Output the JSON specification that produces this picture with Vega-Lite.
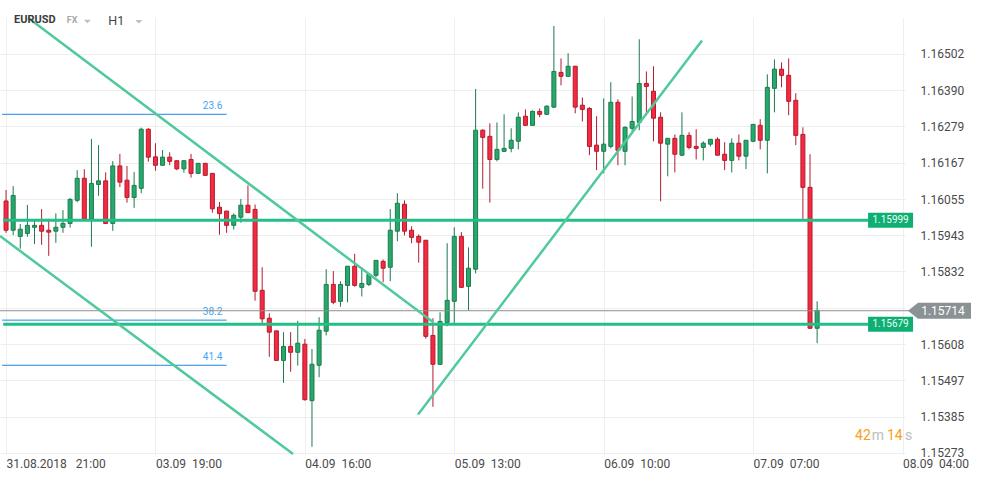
{
"$schema":"https://vega.github.io/schema/vega-lite/v6.json",
"width":905,"height":436,
"autosize":{"type":"none"},
"padding":{"left":0,"top":18,"right":76,"bottom":26},
"background":"#ffffff",
"config":{"view":{"stroke":null},"font":"Roboto",
 "axis":{"labelFont":"Roboto","labelFontSize":12,"labelColor":"#4a4a4a","labelOverlap":false,"labelFlush":false,"labelBound":false,"grid":true,"gridColor":"#eeeeee","gridWidth":1,"domain":false,"ticks":false,"tickSize":0},
 "axisX":{"labelAlign":"left","labelPadding":4,"tickCount":20},
 "axisY":{"labelAlign":"left","labelPadding":15,"tickCount":20}},
"resolve":{"scale":{"x":"shared","y":"shared"}},
"datasets":{
"candles":[
{"i":0,"o":1.16049,"h":1.16083,"l":1.15951,"c":1.15959},
{"i":1,"o":1.15959,"h":1.16095,"l":1.15944,"c":1.16066},
{"i":2,"o":1.1594,"h":1.15978,"l":1.15902,"c":1.15962},
{"i":3,"o":1.15949,"h":1.16037,"l":1.15939,"c":1.15974},
{"i":4,"o":1.15968,"h":1.15988,"l":1.15916,"c":1.15974},
{"i":5,"o":1.15974,"h":1.16024,"l":1.15914,"c":1.15956},
{"i":6,"o":1.15959,"h":1.15994,"l":1.1588,"c":1.15953},
{"i":7,"o":1.15956,"h":1.16011,"l":1.1592,"c":1.15968},
{"i":8,"o":1.15968,"h":1.16021,"l":1.15951,"c":1.1598},
{"i":9,"o":1.1598,"h":1.16058,"l":1.15967,"c":1.16054},
{"i":10,"o":1.16051,"h":1.16144,"l":1.16045,"c":1.16119},
{"i":11,"o":1.16119,"h":1.16147,"l":1.1599,"c":1.15993},
{"i":12,"o":1.15993,"h":1.1624,"l":1.15908,"c":1.16103},
{"i":13,"o":1.161,"h":1.16221,"l":1.16065,"c":1.16111},
{"i":14,"o":1.16111,"h":1.16137,"l":1.15978,"c":1.1598},
{"i":15,"o":1.1598,"h":1.16172,"l":1.15957,"c":1.16157},
{"i":16,"o":1.16157,"h":1.16194,"l":1.16092,"c":1.16107},
{"i":17,"o":1.16113,"h":1.16157,"l":1.16044,"c":1.1606},
{"i":18,"o":1.1606,"h":1.16138,"l":1.16028,"c":1.16097},
{"i":19,"o":1.16088,"h":1.16275,"l":1.16073,"c":1.1627},
{"i":20,"o":1.1627,"h":1.16273,"l":1.1617,"c":1.16184},
{"i":21,"o":1.16185,"h":1.16227,"l":1.16142,"c":1.16159},
{"i":22,"o":1.16159,"h":1.16206,"l":1.16157,"c":1.16184},
{"i":23,"o":1.16184,"h":1.16199,"l":1.16159,"c":1.16171},
{"i":24,"o":1.16173,"h":1.16174,"l":1.16144,"c":1.16148},
{"i":25,"o":1.16148,"h":1.16174,"l":1.16136,"c":1.16173},
{"i":26,"o":1.16177,"h":1.16194,"l":1.16121,"c":1.16134},
{"i":27,"o":1.16134,"h":1.16166,"l":1.16133,"c":1.16165},
{"i":28,"o":1.16165,"h":1.16166,"l":1.16126,"c":1.16128},
{"i":29,"o":1.16134,"h":1.16135,"l":1.16013,"c":1.16025},
{"i":30,"o":1.1603,"h":1.16046,"l":1.15945,"c":1.1601},
{"i":31,"o":1.16018,"h":1.16018,"l":1.15951,"c":1.15974},
{"i":32,"o":1.15974,"h":1.16011,"l":1.15961,"c":1.16005},
{"i":33,"o":1.15999,"h":1.16055,"l":1.15982,"c":1.16036},
{"i":34,"o":1.16036,"h":1.16097,"l":1.16012,"c":1.16013},
{"i":35,"o":1.16023,"h":1.16038,"l":1.15742,"c":1.15771},
{"i":36,"o":1.15774,"h":1.15845,"l":1.15672,"c":1.15686},
{"i":37,"o":1.15688,"h":1.15703,"l":1.15569,"c":1.15645},
{"i":38,"o":1.15649,"h":1.15649,"l":1.15556,"c":1.15558},
{"i":39,"o":1.15558,"h":1.15645,"l":1.15489,"c":1.15601},
{"i":40,"o":1.15601,"h":1.15645,"l":1.15523,"c":1.15583},
{"i":41,"o":1.15583,"h":1.1568,"l":1.15542,"c":1.15611},
{"i":42,"o":1.15608,"h":1.15624,"l":1.15434,"c":1.15437},
{"i":43,"o":1.15434,"h":1.15593,"l":1.15292,"c":1.15546},
{"i":44,"o":1.15543,"h":1.15691,"l":1.15506,"c":1.15651},
{"i":45,"o":1.15648,"h":1.15839,"l":1.15635,"c":1.15792},
{"i":46,"o":1.15792,"h":1.15833,"l":1.15731,"c":1.15737},
{"i":47,"o":1.1574,"h":1.15802,"l":1.15723,"c":1.15792},
{"i":48,"o":1.15789,"h":1.15849,"l":1.15737,"c":1.15848},
{"i":49,"o":1.15848,"h":1.15886,"l":1.15785,"c":1.15789},
{"i":50,"o":1.15783,"h":1.15845,"l":1.15755,"c":1.15795},
{"i":51,"o":1.15792,"h":1.15827,"l":1.15787,"c":1.15823},
{"i":52,"o":1.1582,"h":1.15867,"l":1.15814,"c":1.15866},
{"i":53,"o":1.15863,"h":1.15869,"l":1.15799,"c":1.15842},
{"i":54,"o":1.15845,"h":1.16024,"l":1.15802,"c":1.15959},
{"i":55,"o":1.15956,"h":1.16073,"l":1.15925,"c":1.16042},
{"i":56,"o":1.16039,"h":1.16051,"l":1.15943,"c":1.15956},
{"i":57,"o":1.15959,"h":1.15971,"l":1.15919,"c":1.15937},
{"i":58,"o":1.1594,"h":1.15946,"l":1.15859,"c":1.15922},
{"i":59,"o":1.15928,"h":1.15929,"l":1.15625,"c":1.15632},
{"i":60,"o":1.15635,"h":1.15688,"l":1.15415,"c":1.15546},
{"i":61,"o":1.15546,"h":1.15706,"l":1.15544,"c":1.15678},
{"i":62,"o":1.15675,"h":1.15919,"l":1.15663,"c":1.15743},
{"i":63,"o":1.1574,"h":1.15968,"l":1.15669,"c":1.1594},
{"i":64,"o":1.1594,"h":1.15953,"l":1.15781,"c":1.15783},
{"i":65,"o":1.15786,"h":1.15906,"l":1.15712,"c":1.15842},
{"i":66,"o":1.15839,"h":1.16394,"l":1.15826,"c":1.16267},
{"i":67,"o":1.16267,"h":1.1627,"l":1.16087,"c":1.16245},
{"i":68,"o":1.16248,"h":1.16288,"l":1.16044,"c":1.16177},
{"i":69,"o":1.16177,"h":1.16291,"l":1.16171,"c":1.16208},
{"i":70,"o":1.16202,"h":1.16316,"l":1.162,"c":1.16211},
{"i":71,"o":1.16211,"h":1.16273,"l":1.16199,"c":1.16236},
{"i":72,"o":1.16233,"h":1.16322,"l":1.16208,"c":1.16307},
{"i":73,"o":1.1631,"h":1.16331,"l":1.1628,"c":1.16282},
{"i":74,"o":1.16282,"h":1.16328,"l":1.1628,"c":1.16325},
{"i":75,"o":1.16325,"h":1.16334,"l":1.16307,"c":1.16316},
{"i":76,"o":1.16316,"h":1.16344,"l":1.16314,"c":1.16341},
{"i":77,"o":1.16338,"h":1.16588,"l":1.16336,"c":1.16448},
{"i":78,"o":1.16445,"h":1.16488,"l":1.16405,"c":1.16433},
{"i":79,"o":1.16433,"h":1.16504,"l":1.16431,"c":1.16464},
{"i":80,"o":1.16464,"h":1.16465,"l":1.16319,"c":1.16338},
{"i":81,"o":1.16344,"h":1.16368,"l":1.16294,"c":1.16331},
{"i":82,"o":1.16334,"h":1.16338,"l":1.1619,"c":1.16217},
{"i":83,"o":1.16221,"h":1.1631,"l":1.16144,"c":1.16202},
{"i":84,"o":1.16202,"h":1.16365,"l":1.16134,"c":1.16224},
{"i":85,"o":1.16217,"h":1.16415,"l":1.16211,"c":1.16353},
{"i":86,"o":1.16353,"h":1.16362,"l":1.16159,"c":1.16205},
{"i":87,"o":1.16202,"h":1.16279,"l":1.16159,"c":1.16276},
{"i":88,"o":1.16273,"h":1.16371,"l":1.16264,"c":1.16294},
{"i":89,"o":1.16291,"h":1.16547,"l":1.16267,"c":1.16411},
{"i":90,"o":1.16411,"h":1.16448,"l":1.16316,"c":1.16402},
{"i":91,"o":1.16387,"h":1.16464,"l":1.16233,"c":1.16304},
{"i":92,"o":1.16307,"h":1.16322,"l":1.16048,"c":1.16227},
{"i":93,"o":1.16224,"h":1.16242,"l":1.16125,"c":1.16242},
{"i":94,"o":1.16242,"h":1.16254,"l":1.16137,"c":1.16193},
{"i":95,"o":1.1619,"h":1.16322,"l":1.16187,"c":1.16251},
{"i":96,"o":1.16251,"h":1.16261,"l":1.16208,"c":1.16214},
{"i":97,"o":1.16217,"h":1.1627,"l":1.16177,"c":1.16211},
{"i":98,"o":1.16214,"h":1.16233,"l":1.16174,"c":1.16227},
{"i":99,"o":1.16224,"h":1.1624,"l":1.16217,"c":1.16239},
{"i":100,"o":1.16239,"h":1.16245,"l":1.1619,"c":1.1619},
{"i":101,"o":1.16193,"h":1.1623,"l":1.16144,"c":1.16174},
{"i":102,"o":1.16174,"h":1.16242,"l":1.16137,"c":1.16227},
{"i":103,"o":1.16227,"h":1.16254,"l":1.16174,"c":1.16187},
{"i":104,"o":1.16187,"h":1.16236,"l":1.16147,"c":1.16236},
{"i":105,"o":1.16233,"h":1.16285,"l":1.1623,"c":1.16285},
{"i":106,"o":1.16282,"h":1.16301,"l":1.16208,"c":1.16236},
{"i":107,"o":1.16236,"h":1.16439,"l":1.16134,"c":1.16399},
{"i":108,"o":1.16396,"h":1.16485,"l":1.16322,"c":1.16455},
{"i":109,"o":1.16455,"h":1.16476,"l":1.16399,"c":1.16436},
{"i":110,"o":1.16436,"h":1.16488,"l":1.16313,"c":1.16356},
{"i":111,"o":1.16359,"h":1.16381,"l":1.16221,"c":1.16251},
{"i":112,"o":1.16254,"h":1.16276,"l":1.15994,"c":1.16091},
{"i":113,"o":1.16091,"h":1.16193,"l":1.15655,"c":1.15657},
{"i":114,"o":1.15657,"h":1.1574,"l":1.15611,"c":1.15712}
],
"fib":[{"t":"23.6","p":1.16316},{"t":"38.2","p":1.15682},{"t":"41.4","p":1.15543}],
"levels":[{"t":"1.15999","p":1.1599},{"t":"1.15679","p":1.15669}],
"trend":[{"x0":3.09,"p0":1.16613,"x1":60.0,"p1":1.15676},{"x0":-0.85,"p0":1.15941,"x1":40.34,"p1":1.1527},{"x0":57.91,"p0":1.15391,"x1":97.82,"p1":1.16543}],
"last":[{"t":"1.15714","p":1.15711}]
},
"layer":[
{"data":{"name":"candles"},"mark":{"type":"rule","strokeWidth":1},
 "encoding":{
  "x":{"field":"i","type":"quantitative","title":null,"scale":{"domain":[-0.85,126.35],"nice":false,"zero":false,"padding":0},
   "axis":{"orient":"bottom","tickCount":20,"values":[0,21,42,63,84,105,126],
    "labelExpr":"datum.value == 0 ? '31.08.2018\u00a0\u00a0\u00a021:00' : datum.value == 21 ? '03.09\u00a0\u00a019:00' : datum.value == 42 ? '04.09\u00a0\u00a016:00' : datum.value == 63 ? '05.09\u00a0\u00a013:00' : datum.value == 84 ? '06.09\u00a0\u00a010:00' : datum.value == 105 ? '07.09\u00a0\u00a007:00' : '08.09\u00a0\u00a004:00'"}},
  "y":{"field":"l","type":"quantitative","title":null,"scale":{"domain":[1.152697,1.166126],"nice":false,"zero":false,"padding":0},
   "axis":{"orient":"right","tickCount":20,"values":[1.15273,1.15385,1.15497,1.15608,1.1572,1.15832,1.15943,1.16055,1.16167,1.16279,1.1639,1.16502],
    "labelExpr":"abs(datum.value - 1.1572) < 0.00001 ? '' : format(datum.value, '.5f')"}},
  "y2":{"field":"h"},
  "color":{"condition":{"test":"datum.c >= datum.o","value":"#1c7a4d"},"value":"#b31b2e"}}},
{"data":{"name":"candles"},"mark":{"type":"bar","size":4,"strokeWidth":1},
 "encoding":{
  "x":{"field":"i","type":"quantitative","title":null},
  "y":{"field":"o","type":"quantitative","title":null},
  "y2":{"field":"c"},
  "fill":{"condition":{"test":"datum.c >= datum.o","value":"#27a96d"},"value":"#f52a40"},
  "stroke":{"condition":{"test":"datum.c >= datum.o","value":"#1c7a4d"},"value":"#b31b2e"}}},
{"data":{"name":"fib"},"mark":{"type":"rule","color":"#1e88e5","strokeWidth":1},
 "encoding":{"x":{"datum":-0.56,"type":"quantitative","title":null},"x2":{"datum":31.0},"y":{"field":"p","type":"quantitative","title":null}}},
{"data":{"name":"fib"},"mark":{"type":"text","align":"right","baseline":"middle","dy":-8.5,"fontSize":10,"color":"#42a5f5"},
 "encoding":{"x":{"datum":30.4,"type":"quantitative","title":null},"y":{"field":"p","type":"quantitative","title":null},"text":{"field":"t"}}},
{"data":{"name":"last"},"mark":{"type":"rule","color":"#8e8e8e","strokeWidth":1},
 "encoding":{"x":{"datum":-0.85,"type":"quantitative","title":null},"x2":{"datum":127.0},"y":{"field":"p","type":"quantitative","title":null}}},
{"data":{"name":"levels"},"mark":{"type":"rule","color":"#22bf88","strokeWidth":3},
 "encoding":{"x":{"datum":-0.4,"type":"quantitative","title":null},"x2":{"datum":121.2},"y":{"field":"p","type":"quantitative","title":null}}},
{"data":{"name":"trend"},"mark":{"type":"rule","color":"#50c99b","strokeWidth":2.5},
 "encoding":{"x":{"field":"x0","type":"quantitative","title":null},"x2":{"field":"x1"},"y":{"field":"p0","type":"quantitative","title":null},"y2":{"field":"p1"}}},
{"data":{"name":"levels"},"mark":{"type":"point","filled":true,"opacity":1,"strokeWidth":0,"size":2025,"shape":"M -1 -0.333 L 1 -0.333 L 1 0.333 L -1 0.333 Z","color":"#0fae72"},
 "encoding":{"x":{"datum":124.32,"type":"quantitative","title":null},"y":{"field":"p","type":"quantitative","title":null}}},
{"data":{"name":"levels"},"mark":{"type":"text","align":"center","baseline":"middle","fontSize":10,"color":"#eafff5"},
 "encoding":{"x":{"datum":124.32,"type":"quantitative","title":null},"y":{"field":"p","type":"quantitative","title":null},"text":{"field":"t"}}},
{"data":{"name":"last"},"mark":{"type":"point","filled":true,"opacity":1,"strokeWidth":0,"size":3969,"shape":"M -1 0 L -0.683 -0.254 L 1 -0.254 L 1 0.254 L -0.683 0.254 Z","color":"#8a9295"},
 "encoding":{"x":{"datum":131.2,"type":"quantitative","title":null},"y":{"field":"p","type":"quantitative","title":null}}},
{"data":{"name":"last"},"mark":{"type":"text","align":"center","baseline":"middle","fontSize":12,"color":"#ffffff"},
 "encoding":{"x":{"datum":131.69,"type":"quantitative","title":null},"y":{"field":"p","type":"quantitative","title":null},"text":{"field":"t"}}},
{"data":{"values":[{"t":"EURUSD"}]},"mark":{"type":"text","align":"left","baseline":"middle","fontSize":11,"fontWeight":"bold","color":"#3c3c3c"},
 "encoding":{"x":{"datum":1.12,"type":"quantitative","title":null},"y":{"datum":1.16605,"type":"quantitative","title":null},"text":{"field":"t"}}},
{"data":{"values":[{"t":"FX"}]},"mark":{"type":"text","align":"left","baseline":"middle","fontSize":9,"fontWeight":"bold","color":"#a8a8a8"},
 "encoding":{"x":{"datum":8.53,"type":"quantitative","title":null},"y":{"datum":1.16606,"type":"quantitative","title":null},"text":{"field":"t"}}},
{"data":{"values":[{"t":"H1"}]},"mark":{"type":"text","align":"left","baseline":"middle","fontSize":12.5,"color":"#444444"},
 "encoding":{"x":{"datum":14.38,"type":"quantitative","title":null},"y":{"datum":1.16603,"type":"quantitative","title":null},"text":{"field":"t"}}},
{"data":{"values":[{"k":"FX"}]},"mark":{"type":"point","filled":true,"opacity":1,"strokeWidth":0,"size":49,"shape":"M -1 -0.5 L 1 -0.5 L 0 0.5 Z","color":"#bdbdbd"},
 "encoding":{"x":{"datum":11.43,"type":"quantitative","title":null},"y":{"datum":1.16602,"type":"quantitative","title":null}}},
{"data":{"values":[{"k":"H1"}]},"mark":{"type":"point","filled":true,"opacity":1,"strokeWidth":0,"size":49,"shape":"M -1 -0.5 L 1 -0.5 L 0 0.5 Z","color":"#bdbdbd"},
 "encoding":{"x":{"datum":18.66,"type":"quantitative","title":null},"y":{"datum":1.16601,"type":"quantitative","title":null}}},
{"data":{"values":[{"t":"42"}]},"mark":{"type":"text","align":"left","baseline":"middle","fontSize":14,"color":"#f9a01b"},
 "encoding":{"x":{"datum":119.33,"type":"quantitative","title":null},"y":{"datum":1.15325,"type":"quantitative","title":null},"text":{"field":"t"}}},
{"data":{"values":[{"t":"m"}]},"mark":{"type":"text","align":"left","baseline":"middle","fontSize":14,"color":"#bdbdbd"},
 "encoding":{"x":{"datum":121.67,"type":"quantitative","title":null},"y":{"datum":1.15325,"type":"quantitative","title":null},"text":{"field":"t"}}},
{"data":{"values":[{"t":"14"}]},"mark":{"type":"text","align":"left","baseline":"middle","fontSize":14,"color":"#f9a01b"},
 "encoding":{"x":{"datum":123.82,"type":"quantitative","title":null},"y":{"datum":1.15325,"type":"quantitative","title":null},"text":{"field":"t"}}},
{"data":{"values":[{"t":"s"}]},"mark":{"type":"text","align":"left","baseline":"middle","fontSize":14,"color":"#bdbdbd"},
 "encoding":{"x":{"datum":126.35,"type":"quantitative","title":null},"y":{"datum":1.15325,"type":"quantitative","title":null},"text":{"field":"t"}}}
]
}
